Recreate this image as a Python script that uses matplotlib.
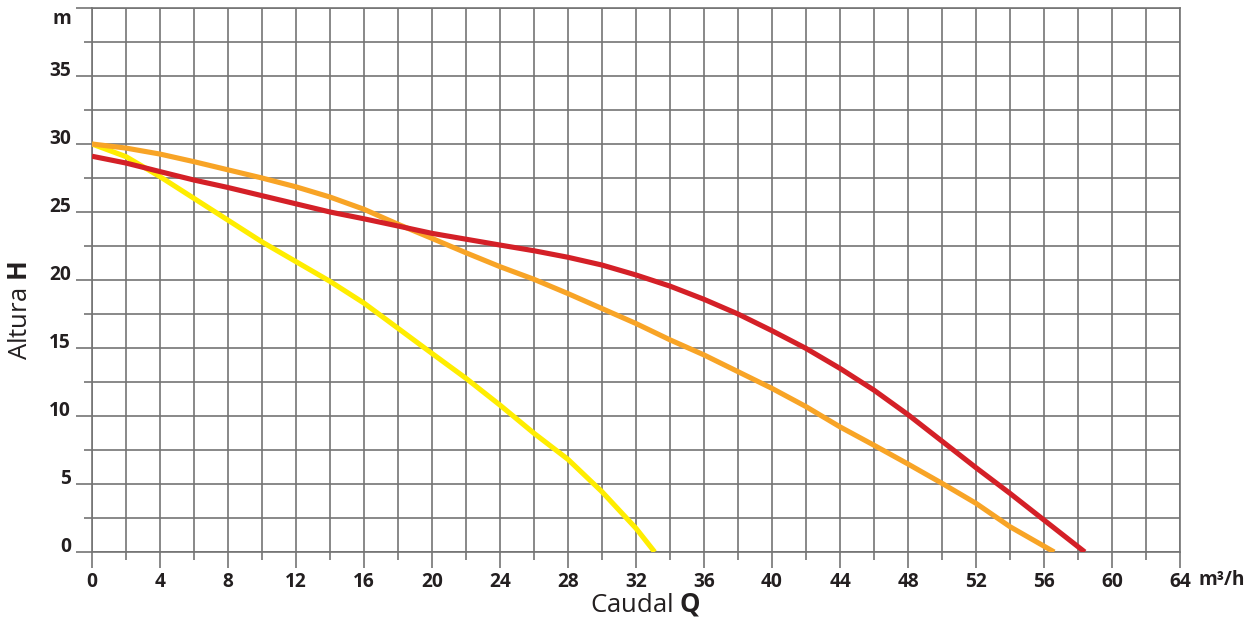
import matplotlib
matplotlib.use("Agg")
import matplotlib.pyplot as plt
from matplotlib.ticker import MultipleLocator

### Data
q_yellow = [0, 2, 4, 6, 8, 10, 12, 14, 16, 18, 20, 22, 24, 26, 28, 30, 32, 33.1]
h_yellow = [30, 29.07, 27.6, 26.0, 24.4, 22.8, 21.35, 19.9, 18.3, 16.45, 14.6, 12.77,
            10.8, 8.73, 6.81, 4.43, 1.74, 0]

q_orange = [0, 2, 4, 6, 8, 10, 12, 14, 16, 18, 20, 22, 24, 26, 28, 30, 32, 34, 36, 38,
            40, 42, 44, 46, 48, 50, 52, 54, 56.6]
h_orange = [30, 29.7, 29.26, 28.7, 28.1, 27.5, 26.85, 26.1, 25.2, 24.1, 23.06, 22.0,
            20.98, 20.05, 19.0, 17.9, 16.8, 15.6, 14.49, 13.26, 12.03, 10.69, 9.2, 7.85,
            6.47, 5.05, 3.58, 1.86, 0]

q_red = [0, 2, 4, 6, 8, 10, 12, 14, 16, 18, 20, 22, 24, 26, 28, 30, 32, 34, 36, 38,
         40, 42, 44, 46, 48, 50, 52, 54, 56, 58.4]
h_red = [29.1, 28.6, 27.97, 27.35, 26.8, 26.2, 25.6, 25.0, 24.5, 23.97, 23.43, 23.0,
         22.57, 22.15, 21.67, 21.1, 20.37, 19.55, 18.58, 17.5, 16.27, 14.97, 13.5, 11.9,
         10.1, 8.15, 6.2, 4.31, 2.35, 0]

x_ticks = list(range(0, 65, 4))
x_labels = [str(v) for v in x_ticks]
y_ticks = list(range(0, 36, 5))
y_labels = [str(v) for v in y_ticks]

### Style
plt.rcParams["font.family"] = ["Open Sans", "DejaVu Sans"]
plt.rcParams["mathtext.fontset"] = "custom"
plt.rcParams["mathtext.rm"] = "Open Sans"
plt.rcParams["mathtext.bf"] = "Open Sans:bold"

grid_color = "#747474"
text_color = "#231f20"
tick_fs = 13.8
W, H = 1247, 623

fig = plt.figure(figsize=(W / 100, H / 100), dpi=100)
ax = fig.add_axes([92 / W, 1 - 552 / H, 1088 / W, 544 / H])

ax.set_xlim(0, 64)
ax.set_ylim(0, 40)

ax.xaxis.set_major_locator(MultipleLocator(4))
ax.xaxis.set_minor_locator(MultipleLocator(2))
ax.yaxis.set_major_locator(MultipleLocator(5))
ax.yaxis.set_minor_locator(MultipleLocator(2.5))

ax.grid(True, which="both", color=grid_color, linewidth=1.2, zorder=1)
for s in ax.spines.values():
    s.set_color(grid_color)
    s.set_linewidth(1.2)

ax.tick_params(which="major", length=11.5, width=1.2, color=grid_color)
ax.tick_params(which="minor", length=5.8, width=1.2, color=grid_color)
ax.tick_params(axis="x", which="major", pad=3)
ax.tick_params(axis="y", which="major", pad=3.5)

ax.set_xticks(x_ticks)
ax.set_xticklabels(x_labels, fontsize=tick_fs, fontweight="bold", color=text_color)
ax.set_yticks(y_ticks + [40])
ax.set_yticklabels(y_labels + [""], fontsize=tick_fs, fontweight="bold", color=text_color)
for lbl in ax.get_yticklabels():
    lbl.set_verticalalignment("baseline")

### Curves
style = dict(linewidth=3.7, solid_capstyle="butt", solid_joinstyle="round")
ax.plot(q_yellow, h_yellow, color="#ffed00", zorder=3, **style)
ax.plot(q_orange, h_orange, color="#f8a426", zorder=4, **style)
ax.plot(q_red, h_red, color="#d42027", zorder=5, **style)

### Units and axis titles
fig.text(71 / W, 1 - 24 / H, "m", ha="right", va="baseline", fontsize=tick_fs,
         fontweight="bold", color=text_color)
fig.text(1198 / W, 1 - 585 / H, "m³/h", ha="left", va="baseline", fontsize=tick_fs,
         fontweight="bold", color=text_color)
fig.text(645 / W, 1 - 605 / H, r"Caudal $\mathbf{Q}$", ha="center", va="center",
         fontsize=18.5, color=text_color)
fig.text(21 / W, 1 - 311 / H, r"Altura $\mathbf{H}$", ha="center", va="center",
         fontsize=18.5, color=text_color, rotation=90)

fig.savefig("out.png", dpi=100)
